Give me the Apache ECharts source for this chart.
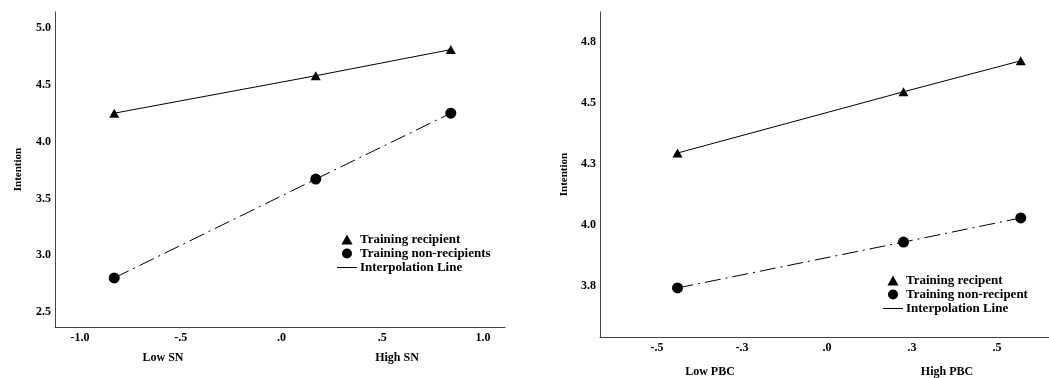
<!DOCTYPE html>
<html>
<head>
<meta charset="utf-8">
<script src="https://cdn.jsdelivr.net/npm/echarts@6/dist/echarts.min.js"></script>
<style>
html,body{margin:0;padding:0;background:#fff;}
#c{width:1049px;height:378px;}
</style>
</head>
<body>
<div id="c"></div>
<script>
// ---- Left panel: Subjective Norm ----
const snX = [-0.83, 0.17, 0.84];
const snRecipient = [4.25, 4.58, 4.81];
const snNonRecipient = [2.80, 3.67, 4.25];
const snXTicks = [-1, -0.5, 0, 0.5, 1];
const snXTickLabels = ['-1.0', '-.5', '.0', '.5', '1.0'];
const snYTicks = [2.5, 3.0, 3.5, 4.0, 4.5, 5.0];
const snYTickLabels = ['2.5', '3.0', '3.5', '4.0', '4.5', '5.0'];
const snNames = ['Training recipient', 'Training non-recipients'];
const snCatLabels = ['Low SN', 'High SN'];

// ---- Right panel: Perceived Behavioural Control ----
const pbcX = [-0.44, 0.225, 0.57];
const pbcRecipient = [4.295, 4.546, 4.673];
const pbcNonRecipient = [3.742, 3.930, 4.029];
const pbcXTicks = [-0.5, -0.25, 0, 0.25, 0.5];
const pbcXTickLabels = ['-.5', '-.3', '.0', '.3', '.5'];
const pbcYTicks = [3.75, 4.0, 4.25, 4.5, 4.75];
const pbcYTickLabels = ['3.8', '4.0', '4.3', '4.5', '4.8'];
const pbcNames = ['Training recipent', 'Training non-recipent'];
const pbcCatLabels = ['Low PBC', 'High PBC'];

const lineName = 'Interpolation Line';
const yTitle = 'Intention';

const FONT = 'Liberation Serif';
const AXIS_COLOR = '#444';

function pair(xs, ys) { return xs.map((x, i) => [x, ys[i]]); }
function labelFrom(ticks, labels) {
  return function (v) {
    for (let i = 0; i < ticks.length; i++) if (Math.abs(ticks[i] - v) < 1e-9) return labels[i];
    return '';
  };
}
const labelStyle = { fontFamily: FONT, fontWeight: 'bold', fontSize: 12, color: '#000' };

function xAxisDef(grid, min, max, ticks, labels) {
  return {
    type: 'value', gridIndex: grid, min: min, max: max,
    axisLine: { show: true, onZero: false, lineStyle: { color: AXIS_COLOR, width: 1 } },
    axisTick: { show: false }, splitLine: { show: false },
    axisLabel: Object.assign({ customValues: ticks, formatter: labelFrom(ticks, labels), margin: 5 }, labelStyle)
  };
}
function yAxisDef(grid, min, max, ticks, labels, gap) {
  return {
    type: 'value', gridIndex: grid, min: min, max: max,
    name: yTitle, nameLocation: 'middle', nameRotate: 90, nameGap: gap,
    nameTextStyle: { fontFamily: FONT, fontWeight: 'bold', fontSize: 11, color: '#000' },
    axisLine: { show: true, onZero: false, lineStyle: { color: AXIS_COLOR, width: 1 } },
    axisTick: { show: false }, splitLine: { show: false },
    axisLabel: Object.assign({ customValues: ticks, formatter: labelFrom(ticks, labels), margin: 4 }, labelStyle)
  };
}
const dashDot = [16, 5, 2, 5];
function triSeries(name, xi, data) {
  return { name: name, type: 'line', xAxisIndex: xi, yAxisIndex: xi, data: data,
    symbol: 'triangle', symbolSize: [10, 9], itemStyle: { color: '#000' },
    lineStyle: { color: '#000', width: 1, type: 'solid' } };
}
function cirSeries(name, xi, data) {
  return { name: name, type: 'line', xAxisIndex: xi, yAxisIndex: xi, data: data,
    symbol: 'circle', symbolSize: 11, itemStyle: { color: '#000' },
    lineStyle: { color: '#000', width: 1, type: dashDot } };
}
const lineIcon = 'path://M0,0H20V1H0Z';
const triIcon = 'path://M5,0L10,9L0,9Z';
function legendDef(names, left, top) {
  return {
    orient: 'vertical', left: left, top: top, padding: 0, itemGap: 1,
    itemWidth: 20, itemHeight: 10, selectedMode: false,
    textStyle: { fontFamily: FONT, fontWeight: 'bold', fontSize: 13, color: '#000', lineHeight: 13, padding: [0, 0, 0, -2] },
    data: [
      { name: names[0], icon: triIcon },
      { name: names[1], icon: 'circle' },
      { name: lineName, icon: lineIcon }
    ]
  };
}
function catText(txt, x, y) {
  return { type: 'text', x: x, y: y, style: { text: txt, fontFamily: FONT, fontWeight: 'bold', fontSize: 12, fill: '#000', align: 'center', verticalAlign: 'middle' } };
}

const chart = echarts.init(document.getElementById('c'), null, { renderer: 'canvas' });
chart.setOption({
  animation: false,
  backgroundColor: '#fff',
  grid: [
    { left: 55, top: 12, width: 450, height: 315 },
    { left: 600, top: 12, width: 449, height: 325 }
  ],
  xAxis: [
    xAxisDef(0, -1.124, 1.109, snXTicks, snXTickLabels),
    xAxisDef(1, -0.668, 0.653, pbcXTicks, pbcXTickLabels)
  ],
  yAxis: [
    yAxisDef(0, 2.368, 5.141, snYTicks, snYTickLabels, 31),
    yAxisDef(1, 3.541, 4.873, pbcYTicks, pbcYTickLabels, 30)
  ],
  legend: [
    legendDef(snNames, 337, 233),
    legendDef(pbcNames, 883, 274)
  ],
  series: [
    triSeries(snNames[0], 0, pair(snX, snRecipient)),
    cirSeries(snNames[1], 0, pair(snX, snNonRecipient)),
    triSeries(pbcNames[0], 1, pair(pbcX, pbcRecipient)),
    cirSeries(pbcNames[1], 1, pair(pbcX, pbcNonRecipient)),
    { name: lineName, type: 'line', data: [], xAxisIndex: 0, yAxisIndex: 0, itemStyle: { color: '#000' }, lineStyle: { color: '#000', width: 1 } }
  ],
  graphic: [
    catText(snCatLabels[0], 163, 358),
    catText(snCatLabels[1], 397, 358),
    catText(pbcCatLabels[0], 710, 372),
    catText(pbcCatLabels[1], 947, 372)
  ]
});
</script>
</body>
</html>
